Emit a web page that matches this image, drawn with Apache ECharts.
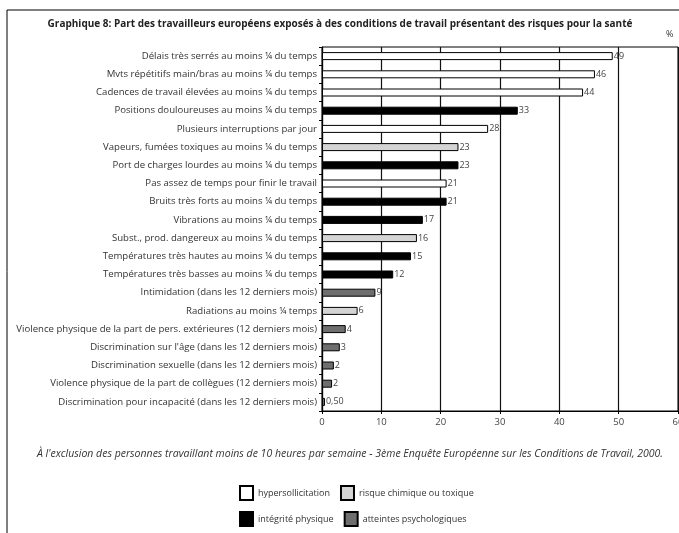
<!DOCTYPE html>
<html><head><meta charset="utf-8">
<script src="https://cdn.jsdelivr.net/npm/echarts@6/dist/echarts.min.js"></script>
<style>html,body{margin:0;padding:0;background:#fff}#c{width:679px;height:533px}</style>
</head><body><div id="c"></div>
<script>
const categories = [
  "Délais très serrés au moins ¼ du temps",
  "Mvts répétitifs main/bras au moins ¼ du temps",
  "Cadences de travail élevées au moins ¼ du temps",
  "Positions douloureuses au moins ¼ du temps",
  "Plusieurs interruptions par jour",
  "Vapeurs, fumées toxiques au moins ¼ du temps",
  "Port de charges lourdes au moins ¼ du temps",
  "Pas assez de temps pour finir le travail",
  "Bruits très forts au moins ¼ du temps",
  "Vibrations au moins ¼ du temps",
  "Subst., prod. dangereux au moins ¼ du temps",
  "Températures très hautes au moins ¼ du temps",
  "Températures très basses au moins ¼ du temps",
  "Intimidation (dans les 12 derniers mois)",
  "Radiations au moins ¼ temps",
  "Violence physique de la part de pers. extérieures (12 derniers mois)",
  "Discrimination sur l'âge (dans les 12 derniers mois)",
  "Discrimination sexuelle (dans les 12 derniers mois)",
  "Violence physique de la part de collègues (12 derniers mois)",
  "Discrimination pour incapacité (dans les 12 derniers mois)"
];
const values = [49,46,44,33,28,23,23,21,21,17,16,15,12,9,6,4,3,2,1.7,0.5];
const valueLabels = ["49","46","44","33","28","23","23","21","21","17","16","15","12","9","6","4","3","2","2","0,50"];
const groups = ["h","h","h","p","h","c","p","h","p","p","c","p","p","a","c","a","a","a","a","a"];
const groupKeys = ["h","c","p","a"];
const groupNames = {h:"hypersollicitation", c:"risque chimique ou toxique", p:"intégrité physique", a:"atteintes psychologiques"};
const groupColors = {h:"#ffffff", c:"#d4d4d4", p:"#000000", a:"#6e6e6e"};
const xTicks = [0,10,20,30,40,50,60];

const FONT = "'Open Sans', 'Noto Sans', sans-serif";
const series = groupKeys.map(k => ({
  name: groupNames[k],
  type: 'bar',
  barWidth: 8,
  barGap: '-100%',
  itemStyle: {color: groupColors[k], borderColor: '#000', borderWidth: 1},
  label: {show: true, position: 'right', distance: 1, fontSize: 9, color: '#444', fontFamily: FONT,
    formatter: p => valueLabels[p.dataIndex]},
  data: values.map((v,i) => groups[i] === k ? v : '-')
}));

const chart = echarts.init(document.getElementById('c'), null, {renderer: 'canvas'});
chart.setOption({
  animation: false,
  textStyle: {fontFamily: FONT},
  title: [{
    text: "Graphique 8: Part des travailleurs européens exposés à des conditions de travail présentant des risques pour la santé",
    left: 335, top: 14, textAlign: 'center',
    textStyle: {fontSize: 10, fontWeight: 'bold', color: '#222', fontFamily: FONT}
  }, {
    text: "%", left: 661, top: 25,
    textStyle: {fontSize: 9, fontWeight: 'normal', color: '#333', fontFamily: FONT}
  }, {
    text: "À l'exclusion des personnes travaillant moins de 10 heures par semaine - 3ème Enquête Européenne sur les Conditions de Travail, 2000.",
    left: 345, top: 444, textAlign: 'center',
    textStyle: {fontSize: 10.5, fontWeight: 'normal', fontStyle: 'italic', color: '#333', fontFamily: FONT}
  }],
  legend: [{
    data: [groupNames.h, groupNames.c],
    left: 234, top: 480, itemWidth: 13, itemHeight: 14, itemGap: 10, icon: 'rect',
    textStyle: {fontSize: 9, color: '#333', width: 85, fontFamily: FONT}
  }, {
    data: [groupNames.p, groupNames.a],
    left: 234, top: 506, itemWidth: 13, itemHeight: 14, itemGap: 10, icon: 'rect',
    textStyle: {fontSize: 9, color: '#333', width: 85, fontFamily: FONT}
  }],
  grid: {left: 322, right: 1, top: 47, bottom: 122, show: true, borderColor: '#000', borderWidth: 1,
    outerBoundsMode: 'none', containLabel: false},
  xAxis: {
    type: 'value', min: 0, max: 60, interval: 10,
    axisLine: {show: true, lineStyle: {color: '#000', width: 1.2}},
    axisTick: {show: true, length: 3, lineStyle: {color: '#000'}},
    axisLabel: {fontSize: 9.5, color: '#444', margin: 6, fontFamily: FONT, formatter: v => xTicks.includes(v) ? String(v) : ''},
    splitLine: {show: true, lineStyle: {color: '#111', width: 1.2}}
  },
  yAxis: {
    type: 'category', inverse: true, data: categories,
    axisLine: {show: true, lineStyle: {color: '#000', width: 1.2}},
    axisTick: {show: true, length: 3, lineStyle: {color: '#000'}},
    axisLabel: {fontSize: 9.6, color: '#333', margin: 5, fontFamily: FONT}
  },
  graphic: [{
    type: 'polyline', silent: true,
    shape: {points: [[7, 533], [7, 10], [679, 10]]},
    style: {stroke: '#000', lineWidth: 1, fill: null}
  }],
  series: series
});
</script></body></html>
